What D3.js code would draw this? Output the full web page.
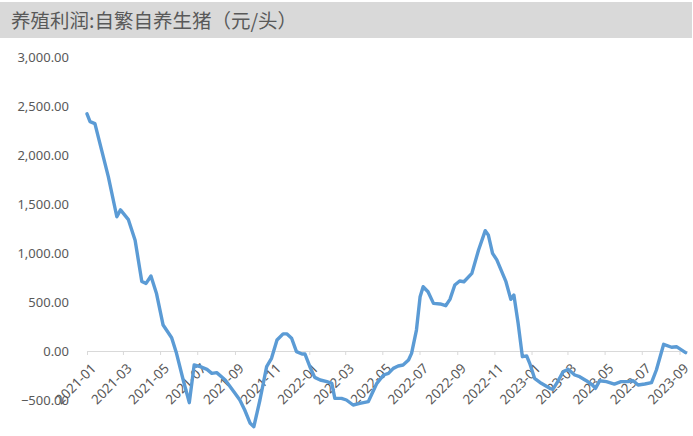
<!DOCTYPE html>
<html>
<head>
<meta charset="utf-8">
<script src="https://cdn.jsdelivr.net/npm/d3@7"></script>
<style>
  html, body { margin: 0; padding: 0; background: #fff; }
  svg { display: block; }
</style>
</head>
<body>
<svg id="chart" width="693" height="436"></svg>
<script>
const title = "养殖利润:自繁自养生猪（元/头）";

const dates = [
  "2021-01-01","2021-01-06","2021-01-14","2021-01-25","2021-02-05","2021-02-19","2021-02-25",
  "2021-03-10","2021-03-21","2021-04-01","2021-04-08","2021-04-16","2021-04-25","2021-05-06",
  "2021-05-20","2021-05-28","2021-06-08","2021-06-18","2021-06-26","2021-07-06","2021-07-17",
  "2021-07-25","2021-08-02","2021-08-16","2021-09-01","2021-09-09","2021-09-17","2021-09-26",
  "2021-10-02","2021-10-12","2021-10-23","2021-10-31","2021-11-09","2021-11-19","2021-11-25",
  "2021-12-03","2021-12-11","2021-12-20","2021-12-25","2022-01-02","2022-01-10","2022-01-19",
  "2022-01-30","2022-02-07","2022-02-12","2022-02-23","2022-03-03","2022-03-14","2022-03-25",
  "2022-04-08","2022-04-13","2022-04-22","2022-05-03","2022-05-11","2022-05-19","2022-05-27",
  "2022-06-04","2022-06-13","2022-06-18","2022-06-26","2022-07-02","2022-07-07","2022-07-15",
  "2022-07-24","2022-08-04","2022-08-13","2022-08-20","2022-08-28","2022-09-05","2022-09-12",
  "2022-09-25","2022-10-06","2022-10-17","2022-10-22","2022-10-29","2022-11-05","2022-11-20",
  "2022-11-28","2022-12-03","2022-12-10","2022-12-17","2022-12-24","2022-12-29","2023-01-06",
  "2023-01-17","2023-01-31","2023-02-05","2023-02-13","2023-02-22","2023-03-02","2023-03-13",
  "2023-03-21","2023-04-01","2023-04-11","2023-04-16","2023-04-23","2023-05-04","2023-05-17",
  "2023-05-28","2023-06-08","2023-06-17","2023-06-25","2023-07-06","2023-07-17","2023-07-25",
  "2023-08-06","2023-08-19","2023-08-27","2023-09-11"
];

const profit = [
  2420, 2340, 2320, 2050, 1780, 1370, 1440,
  1340, 1130, 710, 690, 765, 590, 265,
  135, -24, -296, -527, -143, -160, -187,
  -228, -221, -296, -432, -500, -602, -738,
  -772, -500, -160, -75, 112, 175, 175,
  130, -7, -31, -31, -160, -269, -296,
  -313, -330, -483, -483, -500, -551, -534,
  -517, -449, -330, -245, -228, -177, -153,
  -143, -92, -24, 214, 554, 656, 605,
  486, 480, 462, 527, 673, 714, 707,
  792, 1031, 1228, 1184, 997, 929, 707,
  527, 571, 282, -58, -51, -126, -279,
  -330, -381, -391, -313, -211, -187, -245,
  -262, -303, -347, -381, -303, -313, -337,
  -313, -313, -303, -347, -337, -323, -194,
  68, 38, 44, -17
];

const yTicks = [-500, 0, 500, 1000, 1500, 2000, 2500, 3000];
const xTickLabels = [
  "2021-01","2021-03","2021-05","2021-07","2021-09","2021-11",
  "2022-01","2022-03","2022-05","2022-07","2022-09","2022-11",
  "2023-01","2023-03","2023-05","2023-07","2023-09"
];

const parse = d3.timeParse("%Y-%m-%d");
const parseM = d3.timeParse("%Y-%m");
const data = dates.map((d, i) => ({ date: parse(d), value: profit[i] }));

const svg = d3.select("#chart");
const font = "'Noto Sans', 'DejaVu Sans', sans-serif";

// title bar
svg.append("rect")
  .attr("x", 0).attr("y", 2).attr("width", 692).attr("height", 36)
  .attr("fill", "#d9d9d9");
svg.append("text")
  .attr("x", 11).attr("y", 28)
  .attr("font-family", "'Noto Sans CJK SC', sans-serif")
  .attr("font-size", 19.5)
  .attr("fill", "#595959")
  .text(title);

const x = d3.scaleTime()
  .domain([parse("2021-01-01"), parse("2023-09-11")])
  .range([87, 685.6]);
const y = d3.scaleLinear()
  .domain([-500, 3000])
  .range([400, 57]);

// y axis labels (no axis line)
const fmt = d3.format(",.2f");
const yAxis = svg.append("g").attr("transform", "translate(69,0)")
  .call(d3.axisLeft(y).tickValues(yTicks).tickSize(0).tickPadding(0).tickFormat(fmt));
yAxis.select(".domain").remove();
yAxis.selectAll("text")
  .attr("font-family", font).attr("font-size", 13).attr("fill", "#595959");

// x axis at zero
const xAxis = svg.append("g").attr("transform", `translate(0,${y(0)})`)
  .call(d3.axisBottom(x)
    .tickValues(xTickLabels.map(parseM))
    .tickSize(4)
    .tickSizeOuter(0)
    .tickFormat(d3.timeFormat("%Y-%m")));
xAxis.select(".domain").attr("stroke", "#d9d9d9").attr("stroke-width", 1)
  .attr("d", `M87,0.5H688`);
xAxis.selectAll(".tick line").attr("stroke", "#d9d9d9");
xAxis.selectAll(".tick text")
  .attr("font-family", font).attr("font-size", 13.5).attr("fill", "#595959")
  .attr("text-anchor", "end")
  .attr("transform", "translate(6,15) rotate(-45)")
  .attr("x", 0).attr("y", 0).attr("dy", "0.35em");

// line
const line = d3.line()
  .x(d => x(d.date))
  .y(d => y(d.value))
  .curve(d3.curveLinear);
svg.append("path")
  .datum(data)
  .attr("fill", "none")
  .attr("stroke", "#5b9bd5")
  .attr("stroke-width", 3.4)
  .attr("stroke-linejoin", "round")
  .attr("stroke-linecap", "round")
  .attr("d", line);
</script>
</body>
</html>
